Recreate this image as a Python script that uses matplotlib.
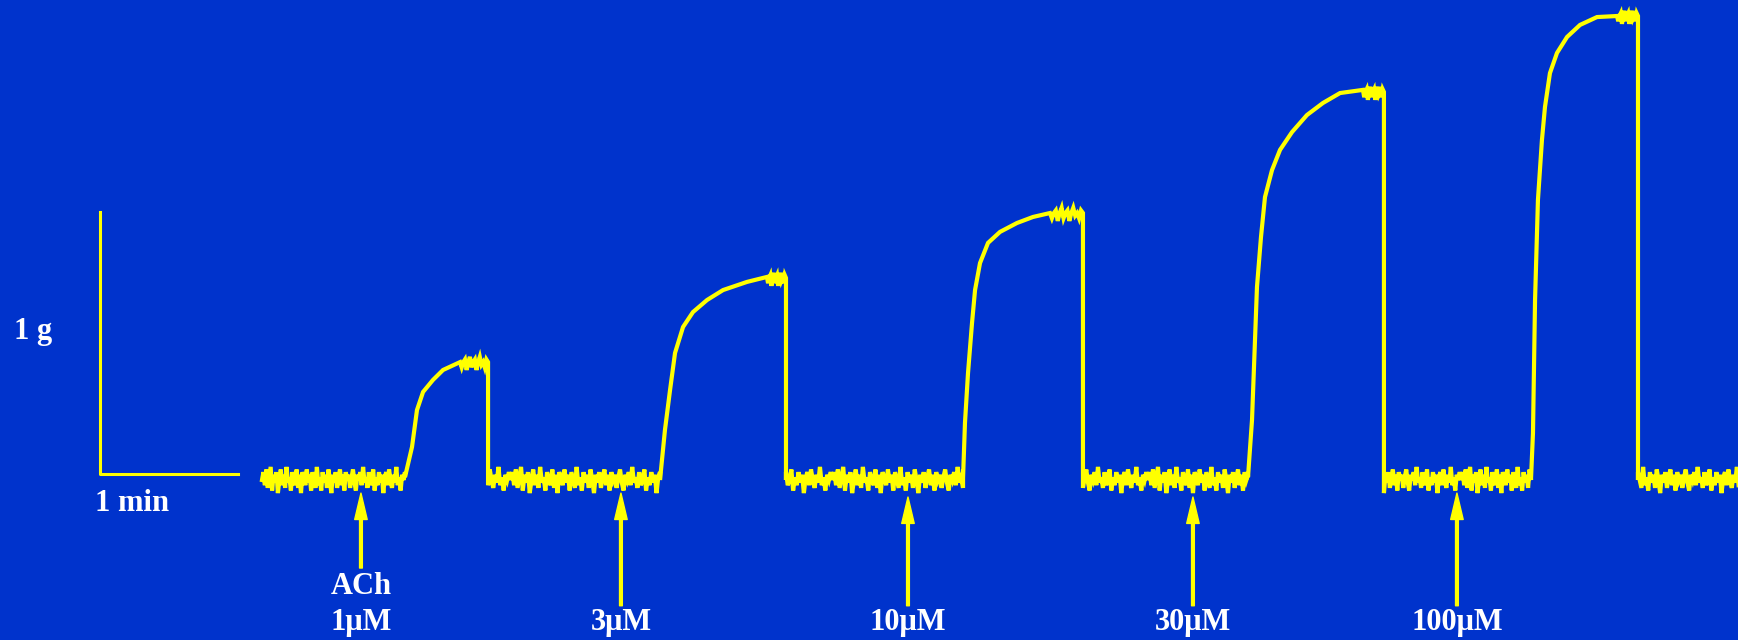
import numpy as np
import matplotlib
matplotlib.use("Agg")
import matplotlib.pyplot as plt

# organ bath recording: ACh cumulative doses, tension (g) vs time (min)
doses = ["ACh\n1μM", "3μM", "10μM", "30μM", "100μM"]
add_times = [0.717, 2.601, 4.681, 6.746, 8.659]

# rising phase of each contraction (min, g)
rise_t = [
    [1.036, 1.087, 1.123, 1.167, 1.239, 1.312, 1.435],
    [2.884, 2.920, 2.957, 2.993, 3.051, 3.123, 3.225, 3.341, 3.514, 3.659],
    [5.080, 5.094, 5.116, 5.145, 5.167, 5.203, 5.261, 5.348, 5.471, 5.587, 5.710],
    [7.145, 7.174, 7.196, 7.210, 7.239, 7.268, 7.319, 7.377, 7.464, 7.572, 7.688, 7.812, 7.978],
    [9.196, 9.210, 9.225, 9.246, 9.275, 9.297, 9.333, 9.384, 9.457, 9.551, 9.674, 9.819],
]
rise_g = [
    [0.011, 0.126, 0.267, 0.336, 0.382, 0.420, 0.450],
    [0.000, 0.191, 0.344, 0.485, 0.584, 0.641, 0.687, 0.725, 0.756, 0.775],
    [0.008, 0.218, 0.408, 0.599, 0.725, 0.828, 0.905, 0.947, 0.981, 1.004, 1.019],
    [0.011, 0.229, 0.546, 0.737, 0.927, 1.080, 1.183, 1.260, 1.328, 1.393, 1.439, 1.477, 1.489],
    [0.008, 0.179, 0.687, 1.069, 1.298, 1.424, 1.553, 1.630, 1.691, 1.737, 1.767, 1.771],
]
# washout times and plateau level just before washout
wash_t = [1.638, 3.797, 5.949, 8.130, 9.971]
wash_g = [0.450, 0.771, 1.019, 1.481, 1.771]
trace_start, trace_end = 0.0, 10.70

# baseline noise (g), read as an estimate of the jitter band
base_noise = [0.00, 0.03, -0.02, 0.04, -0.03, 0.01, 0.05, -0.04, 0.02, -0.01,
              0.03, -0.05, 0.00, 0.04, -0.02, 0.02, -0.03, 0.05, -0.01, 0.01,
              -0.04, 0.03, 0.00, -0.02, 0.04, -0.03, 0.02, -0.05, 0.03, 0.01,
              -0.02, 0.04, -0.01, 0.02, -0.04, 0.03, 0.00, -0.03, 0.05, -0.02,
              0.01, -0.04, 0.03, -0.01, 0.02, -0.03, 0.04, 0.00, -0.05, 0.02,
              -0.01, 0.03, -0.03, 0.01, 0.04, -0.02, 0.02, -0.04, 0.03, 0.00,
              0.02, -0.03, 0.01, 0.04, -0.01, -0.04, 0.02, 0.00, 0.03, -0.02,
              0.05, -0.01, 0.01, -0.03, 0.03, -0.02, 0.00, 0.04, -0.04, 0.01,
              -0.02, 0.03, -0.01, 0.02, -0.05, 0.01, 0.03, -0.02, 0.04, 0.00,
              -0.03, 0.02, -0.01, 0.05, -0.02, 0.01, -0.04, 0.02, 0.00, 0.03]
plateau_noise = [0.00, -0.02, 0.00, 0.01, -0.03, 0.00, 0.02, -0.02, 0.00, 0.01,
                 -0.03, 0.00, 0.02, -0.01, 0.00, -0.02, 0.01, 0.00]

BG = "#0033CC"
YEL = "#FFFF00"

# build trace
t_all, g_all = [], []
seg_starts = [trace_start] + wash_t
seg_ends = [r[0] for r in rise_t] + [trace_end]
for i in range(6):
    n = len(base_noise) if i < 5 else 60
    tt = np.linspace(seg_starts[i], seg_ends[i], n)
    gg = np.roll(base_noise, 13 * i)[:n]
    t_all += list(tt)
    g_all += list(gg)
    if i < 5:
        t_all += rise_t[i]
        g_all += rise_g[i]
        tp = np.linspace(rise_t[i][-1], wash_t[i], len(plateau_noise))
        t_all += list(tp[1:])
        g_all += list(wash_g[i] + np.array(plateau_noise[1:]))
        t_all.append(wash_t[i])
        g_all.append(0.0)

fig = plt.figure(figsize=(17.38, 6.4), dpi=100)
fig.patch.set_facecolor(BG)
ax = fig.add_axes([0, 0, 1, 1])
ax.set_facecolor(BG)
ax.set_xlim(-1.8986, 10.6957)
ax.set_ylim(-0.6107, 1.8321)
ax.axis("off")

ax.plot(t_all, g_all, color=YEL, lw=3.0, solid_joinstyle="miter")

# scale bars
ax.plot([-1.174, -1.174, -0.174], [1.023, 0.023, 0.023], color=YEL, lw=2.2)
font = dict(family="Liberation Serif", weight="bold", color="white", fontsize=22)
ax.text(-1.659, 0.565, "1 g", ha="center", va="center", **font)
ax.text(-0.942, -0.088, "1 min", ha="center", va="center", **font)

# dose arrows
for i, (x, lab) in enumerate(zip(add_times, doses)):
    tail = -0.336 if i == 0 else -0.48
    tip = -0.05 if i in (0, 1, 4) else -0.065
    ax.annotate("", xy=(x, tip), xytext=(x, tail),
                arrowprops=dict(facecolor=YEL, edgecolor=YEL, width=2.0,
                                headwidth=9, headlength=19, shrink=0))
    if i == 0:
        ax.text(x, -0.408, "ACh", ha="center", va="center", **font)
        ax.text(x, -0.542, "1μM", ha="center", va="center", **font)
    else:
        ax.text(x, -0.542, lab, ha="center", va="center", **font)

fig.savefig("out.png", dpi=100, facecolor=BG)
